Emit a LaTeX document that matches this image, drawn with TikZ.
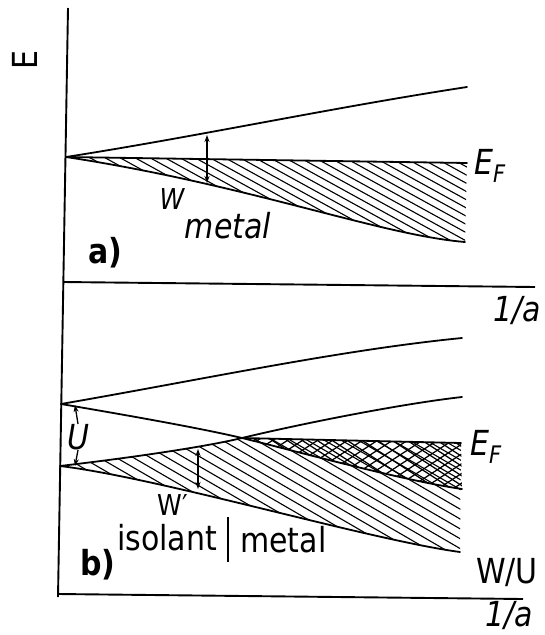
\documentclass[tikz,border=0pt]{standalone}
\usepackage{fontspec}
\setmainfont{DejaVu Sans}
\usetikzlibrary{arrows.meta,calc}
\newcommand{\tallt}[1]{\scalebox{1}[1.15]{#1}}
\begin{document}
\begin{tikzpicture}[x=1pt,y=-1pt,
  curve/.style={line width=1.8pt, line join=round, line cap=round},
  axis/.style={line width=1.9pt},
  hatch/.style={line width=1.1pt},
  xhatch/.style={line width=1.25pt},
  lbl/.style={inner sep=0pt, font=\fontsize{30}{34}\selectfont},
  slbl/.style={inner sep=0pt, font=\fontsize{25}{29}\selectfont},
  dimarrow/.style={line width=1.3pt, {Stealth[length=7pt,width=5pt]}-{Stealth[length=7pt,width=5pt]}},
  onearrow/.style={line width=1.3pt, -{Stealth[length=7pt,width=5pt]}},
]
\useasboundingbox (0,0) rectangle (544,635);

% ---------- axes ----------
\coordinate (Vtop) at (68,8);
\coordinate (Vbot) at (58,597);
\coordinate (Aa0) at (63,282);
\coordinate (Aa1) at (535,287);
\coordinate (Ab0) at (58,594);
\coordinate (Ab1) at (523,599);
\draw[axis] (Vtop) -- (Vbot);
\draw[axis] (Aa0) -- (Aa1);
\draw[axis] (Ab0) -- (Ab1);

% ---------- panel a ----------
\coordinate (Oa) at (66,157);
\coordinate (EFa1) at (467,163);
\coordinate (LAend) at (465,242);
\coordinate (UAend) at (467,87);
\begin{scope}
  \clip (Oa) -- (EFa1) -- (LAend) .. controls (380,235) and (250,185) .. (Oa) -- cycle;
  \foreach \i in {-20,...,32} \draw[hatch] (\i*15,100) -- ++(600,330);
\end{scope}
\draw[curve] (Oa) .. controls (200,136) and (330,108) .. (UAend);
\draw[curve] (Oa) -- (EFa1);
\draw[curve] (Oa) .. controls (250,185) and (380,235) .. (LAend);
\coordinate (Wtop) at (207,135);
\coordinate (Wbot) at (207,183);
\draw[dimarrow] (Wtop) -- (Wbot);

\node[lbl, rotate=90] (Elab) at (25,60) {\tallt{E}};
\node[lbl] (EFlabA) at (490,166) {\tallt{\itshape E\textsubscript{F}}};
\node[slbl] (Wlab) at (172,199) {\tallt{\itshape W}};
\node[lbl] (metalA) at (228,226) {\tallt{\itshape metal}};
\node[lbl] (alab) at (105,253) {\tallt{\bfseries a)}};
\node[lbl] (invA) at (517,311) {\tallt{\itshape 1/a}};

% ---------- panel b ----------
\coordinate (Ou) at (61,404);
\coordinate (Ol) at (60,466);
\coordinate (X) at (242,438);
\coordinate (EFb1) at (461,443);
\coordinate (UBend) at (462,489);
\coordinate (UTend) at (462,338);
\coordinate (LTend) at (462,397);
\coordinate (LBend) at (460,552);

% single hatching (occupied lower band)
\begin{scope}
  \clip (Ol) .. controls (120,459) and (200,448) .. (X) -- (EFb1) -- (LBend)
        .. controls (370,540) and (160,478) .. (Ol) -- cycle;
  \foreach \i in {-16,...,32} \draw[hatch] (\i*17,400) -- ++(700,406);
\end{scope}
% cross hatching (occupied upper band)
\begin{scope}
  \clip (X) -- (EFb1) -- (UBend) .. controls (400,480) and (290,449.5) .. (X) -- cycle;
  \foreach \i in {5,...,36} {
    \draw[xhatch] (\i*15,400) -- ++(300,195);
    \draw[xhatch] (\i*15,520) -- ++(300,-195);
  }
\end{scope}

\draw[curve] (Ou) .. controls (200,380) and (340,350) .. (UTend);
\draw[curve] (Ou) .. controls (120,414) and (200,428) .. (X)
                  .. controls (290,449.5) and (400,480) .. (UBend);
\draw[curve] (Ol) .. controls (120,459) and (200,448) .. (X)
                  .. controls (300,424) and (400,404) .. (LTend);
\draw[curve] (Ol) .. controls (160,478) and (370,540) .. (LBend);
\draw[curve] (X) -- (EFb1);

\coordinate (Wptop) at (198,449);
\coordinate (Wpbot) at (198,489);
\draw[dimarrow] (Wptop) -- (Wpbot);

\node[lbl] (Ulab) at (78,437) {\tallt{\itshape U}};
\coordinate (Utop) at (75,405);
\coordinate (Ubot) at (75,466);
\draw[onearrow] (Ulab.north) -- (Utop);
\draw[onearrow] (Ulab.south) -- (Ubot);

\node[lbl] (EFlabB) at (486,447) {\tallt{\itshape E\textsubscript{F}}};
\node[slbl] (Wplab) at (173,505) {\tallt{W′}};
\node[lbl, anchor=base west] (isol) at (117,550) {\tallt{isolant}};
\node[lbl, anchor=base west] (metalB) at (240,552) {\tallt{metal}};
\coordinate (div0) at (228,517);
\coordinate (div1) at (228,562);
\draw[line width=1.5pt] (div0) -- (div1);
\node[lbl] (blab) at (98,565) {\tallt{\bfseries b)}};
\node[lbl] (WU) at (507,573) {\tallt{W/U}};
\node[lbl] (invB) at (509,616) {\tallt{\itshape 1/a}};
\end{tikzpicture}
\end{document}
